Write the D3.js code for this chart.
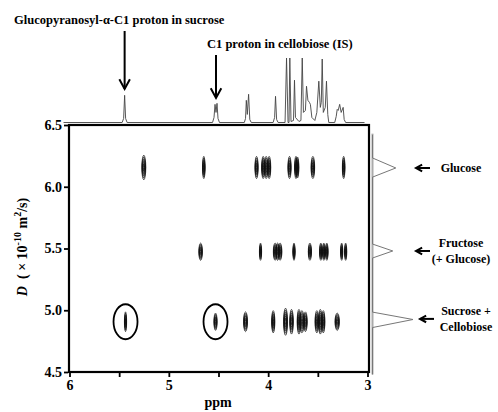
<!DOCTYPE html>
<html><head><meta charset="utf-8">
<script src="https://cdn.jsdelivr.net/npm/d3@7"></script>
<style>body{margin:0;background:#fff}svg{display:block}</style>
</head><body>
<svg id="c" width="498" height="412"></svg>
<script>
// ---------- data ----------
const ppmTicks = [6, 5.5, 5, 4.5, 4, 3.5, 3];
const dTicks = [4.5, 5.0, 5.5, 6.0, 6.5];

// 1D 1H projection on top (ppm, intensity)
const specPpm = [6.06,5.47,5.455,5.445,5.435,5.42,4.56,4.545,4.535,4.525,4.515,4.505,4.49,4.24,4.228,4.22,4.21,4.197,4.185,4.17,3.95,3.935,3.926,3.915,3.90,3.83,3.815,3.80,3.79,3.782,3.77,3.745,3.735,3.725,3.69,3.67,3.657,3.645,3.625,3.614,3.60,3.585,3.575,3.56,3.53,3.51,3.49,3.475,3.465,3.456,3.445,3.425,3.413,3.40,3.39,3.33,3.315,3.305,3.295,3.28,3.265,3.245,3.235,3.22,3.03];
const specInt = [0,0,4,27,4,0,0,5,18,10,19,4,0,0,4,22,8,28,3,0,0,5,26,3,0,0,64,0,0,64,1,2,42,5,1,2,64,10,12,36,22,20,18,5,2,10,41,15,20,63,10,15,41,8,0,0,6,13,12,18,10,15,3,0,0];

// diffusion projection on the right (D, intensity)
const projD = [6.42,6.233,6.152,6.078,5.536,5.48,5.423,4.985,4.925,4.86,4.48];
const projInt = [0,0,23,0,0,20,0,0,40,0,0];

// DOSY cross peaks: ppm, D, half-width (ppm), half-height (D)
const peakPpm = [5.252,4.648,4.117,4.05,4.02,3.99,3.785,3.72,3.705,3.55,3.24,
                 4.68,4.077,3.93,3.905,3.88,3.74,3.58,3.47,3.44,3.41,3.26,3.22,
                 5.436,4.53,4.228,3.949,3.825,3.765,3.69,3.66,3.625,3.51,3.475,3.445,3.305];
const peakD = [6.156,6.156,6.156,6.156,6.156,6.156,6.156,6.156,6.156,6.156,6.156,
               5.474,5.474,5.474,5.474,5.474,5.474,5.474,5.474,5.474,5.474,5.474,5.474,
               4.907,4.907,4.907,4.907,4.907,4.907,4.907,4.907,4.907,4.907,4.907,4.907,4.907];
const peakHW = [0.02,0.013,0.016,0.016,0.018,0.016,0.016,0.014,0.014,0.018,0.013,
                0.018,0.011,0.018,0.018,0.018,0.011,0.016,0.013,0.013,0.013,0.011,0.011,
                0.011,0.016,0.02,0.016,0.02,0.018,0.018,0.022,0.018,0.018,0.018,0.016,0.022];
const peakHH = [0.10,0.09,0.09,0.09,0.09,0.09,0.09,0.09,0.085,0.09,0.09,
                0.07,0.07,0.07,0.07,0.07,0.07,0.07,0.07,0.07,0.07,0.07,0.07,
                0.08,0.07,0.08,0.09,0.11,0.10,0.10,0.09,0.08,0.09,0.10,0.09,0.07];
const contourLevels = [1, 0.84, 0.68, 0.54, 0.4, 0.27, 0.15];

// circled peaks
const circlePpm = [5.436, 4.53];
const circleD = [4.907, 4.907];

// annotations
const topNotes = ["Glucopyranosyl-\u03b1-C1 proton in sucrose", "C1 proton in cellobiose (IS)"];
const sideNotes = [["Glucose"], ["Fructose", "(+ Glucose)"], ["Sucrose +", "Cellobiose"]];
const sideNoteD = [6.152, 5.48, 4.93];

// ---------- drawing ----------
const svg = d3.select("#c");
const FONT = "'Liberation Serif','Times New Roman',serif";
const x = d3.scaleLinear().domain([6, 3]).range([69.5, 367.5]);
const y = d3.scaleLinear().domain([4.5, 6.5]).range([372, 125]);
const yTop = d3.scaleLinear().domain([0, 64]).range([122.5, 58]);
const xRight = d3.scaleLinear().domain([0, 40]).range([372.5, 413]);

// top spectrum
const specData = specPpm.map((p, i) => [p, specInt[i]]);
svg.append("path").datum(specData)
  .attr("d", d3.line().x(d => x(d[0])).y(d => yTop(d[1])))
  .attr("fill", "none").attr("stroke", "#444").attr("stroke-width", 0.9);

// right projection
const projData = projD.map((d, i) => [d, projInt[i]]);
svg.append("line").attr("x1", 372.5).attr("x2", 372.5).attr("y1", y(6.43)).attr("y2", y(4.48))
  .attr("stroke", "#aaa").attr("stroke-width", 2);
svg.append("path").datum(projData)
  .attr("d", d3.line().x(d => xRight(d[1])).y(d => y(d[0])))
  .attr("fill", "none").attr("stroke", "#777").attr("stroke-width", 1);

// cross peaks (contours)
const pk = svg.append("g");
peakPpm.forEach((p, i) => {
  const cx = x(p), cy = y(peakD[i]);
  const rx = Math.abs(x(p + peakHW[i]) - cx);
  const ry = Math.abs(y(peakD[i] + peakHH[i]) - cy);
  contourLevels.forEach(l => {
    pk.append("ellipse").attr("cx", cx).attr("cy", cy)
      .attr("rx", rx * (0.35 + 0.65 * l)).attr("ry", ry * l)
      .attr("fill", "rgba(0,0,0,0.1)").attr("stroke", "#111").attr("stroke-width", 0.7);
  });
});

// circles
circlePpm.forEach((p, i) => {
  svg.append("ellipse").attr("cx", x(p)).attr("cy", y(circleD[i]))
    .attr("rx", 12).attr("ry", 17.5)
    .attr("fill", "none").attr("stroke", "#000").attr("stroke-width", 1.8);
});

// frame
svg.append("rect").attr("x", 69).attr("y", 125).attr("width", 300).attr("height", 247)
  .attr("fill", "none").attr("stroke", "#000").attr("stroke-width", 2.2);

// axes
const yAxis = d3.axisLeft(y).tickValues(dTicks).tickSize(4).tickFormat(d3.format(".1f"));
const gy = svg.append("g").attr("transform", "translate(68,0)").call(yAxis);
const xAxis = d3.axisBottom(x).tickValues(ppmTicks).tickSize(5)
  .tickFormat(d => Number.isInteger(d) ? d : "");
const gx = svg.append("g").attr("transform", "translate(0,372)").call(xAxis);
[gx, gy].forEach(g => {
  g.select(".domain").remove();
  g.selectAll(".tick line").attr("stroke", "#000").attr("stroke-width", 1.8);
  g.selectAll(".tick text").attr("fill", "#000").style("font-family", FONT)
    .style("font-weight", "bold").style("font-size", "14px");
});
gy.selectAll(".tick text").attr("x", -6);
gx.selectAll(".tick text").attr("y", 8);

// axis titles
svg.append("text").attr("x", 218).attr("y", 407).attr("text-anchor", "middle")
  .style("font-family", FONT).style("font-weight", "bold").style("font-size", "14px").text("ppm");

const yl = svg.append("text").attr("transform", "translate(27,247) rotate(-90)")
  .attr("text-anchor", "middle")
  .style("font-family", FONT).style("font-weight", "bold").style("font-size", "14px");
yl.append("tspan").style("font-style", "italic").text("D");
yl.append("tspan").text("\u00a0\u00a0(\u00a0\u00d7\u00a010");
yl.append("tspan").attr("dy", -6).style("font-size", "10px").text("-10");
yl.append("tspan").attr("dy", 6).text("\u00a0m");
yl.append("tspan").attr("dy", -6).style("font-size", "10px").text("2");
yl.append("tspan").attr("dy", 6).text("/s)");

// arrow helper
function arrow(x1, y1, x2, y2, head) {
  const g = svg.append("g").attr("stroke", "#000").attr("stroke-width", 2).attr("fill", "none");
  g.append("line").attr("x1", x1).attr("y1", y1).attr("x2", x2).attr("y2", y2);
  const a = Math.atan2(y2 - y1, x2 - x1);
  const p1 = [x2 - head * Math.cos(a - 0.5), y2 - head * Math.sin(a - 0.5)];
  const p2 = [x2 - head * Math.cos(a + 0.5), y2 - head * Math.sin(a + 0.5)];
  g.append("path").attr("d", `M${p1[0]},${p1[1]}L${x2},${y2}L${p2[0]},${p2[1]}`);
}

// top annotations
svg.append("text").attr("x", 14).attr("y", 23.5)
  .style("font-family", FONT).style("font-weight", "bold").style("font-size", "12.5px").text(topNotes[0]);
svg.append("text").attr("x", 207).attr("y", 48)
  .style("font-family", FONT).style("font-weight", "bold").style("font-size", "12.5px").text(topNotes[1]);
arrow(x(5.445), 31, x(5.445), 89, 11);
arrow(x(4.525), 55, x(4.525), 98, 11);

// side annotations
sideNotes.forEach((lines, i) => {
  const cy = y(sideNoteD[i]);
  const ax = i === 2 ? 420 : 416;
  arrow(ax + 14, cy, ax, cy, 7);
  const t = svg.append("text").attr("text-anchor", "middle")
    .style("font-family", FONT).style("font-weight", "bold").style("font-size", "12px");
  const cx = i === 0 ? 461 : (i === 1 ? 461 : 466);
  const start = cy + 4 - (lines.length - 1) * 8;
  lines.forEach((s, j) => t.append("tspan").attr("x", cx).attr("y", start + j * 16).text(s));
});
</script>
</body></html>
